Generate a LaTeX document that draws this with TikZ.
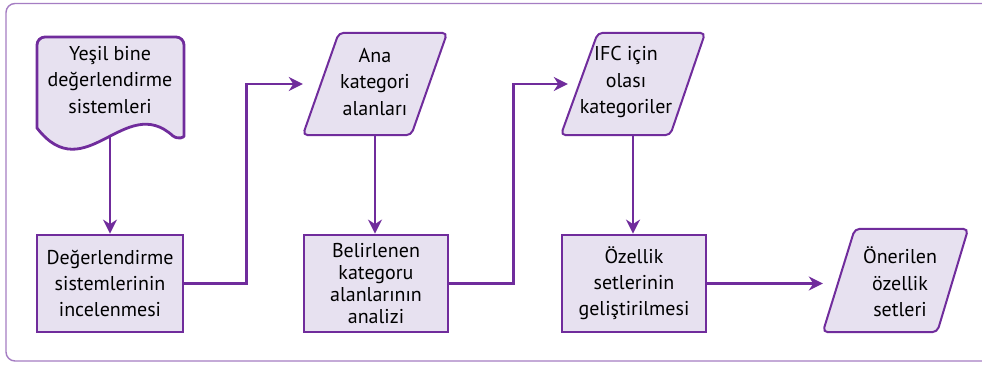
\documentclass[tikz,border=0pt]{standalone}
\usepackage{fontspec}
\setmainfont{PT Sans}
\usetikzlibrary{arrows.meta,calc}
\definecolor{lineP}{RGB}{112,44,156}
\definecolor{fillP}{RGB}{231,225,240}
\definecolor{frameP}{RGB}{165,125,195}
\tikzset{
  conn/.style={draw=lineP, line width=2.6pt},
  arr/.style={conn, -{Stealth[length=14pt,width=14pt,inset=4.5pt]}},
  procbox/.style={draw=lineP, fill=fillP, line width=2.8pt, rectangle, inner sep=0pt,
    align=center, font=\fontsize{20}{26}\selectfont, text=black},
  ghost/.style={draw=none, rectangle, inner sep=0pt, align=center,
    font=\fontsize{20}{26.5}\selectfont, text=black},
  paral/.style={draw=lineP, fill=fillP, line width=2pt, rounded corners=5pt},
  docshape/.style={draw=lineP, fill=fillP, line width=2.8pt},
}
\begin{document}
\begin{tikzpicture}[x=1pt,y=-1pt]
\clip (0,0) rectangle (982,365);
\fill[white] (0,0) rectangle (982,365);
\draw[frameP, line width=1.4pt, rounded corners=9pt] (6,3.5) rectangle (1010,361);

% document shape
\draw[docshape] (37,128) [rounded corners=8pt] -- (37,37) -- (184,37) -- (184,128) [sharp corners]
  .. controls (184,137) and (179,140) .. (173,136)
  .. controls (125,92) and (85,190) .. (37,128) -- cycle;
\node[ghost] (d1) at (110,80) {Yeşil bine\\değerlendirme\\sistemleri};
\coordinate (d1b) at (110,136);

% boxes
\node[procbox, minimum width=146pt, minimum height=97pt] (b1) at (110,283.5)
  {Değerlendirme\\sistemlerinin\\incelenmesi};
\node[procbox, minimum width=144pt, minimum height=97pt, font=\fontsize{20}{21.7}\selectfont] (b2) at (376,283.5)
  {Belirlenen\\kategoru\\alanlarının\\analizi};
\node[procbox, minimum width=144pt, minimum height=97pt] (b3) at (634,283.5)
  {Özellik\\setlerinin\\geliştirilmesi};

% parallelograms (bounding nodes)
\node[ghost, minimum width=144pt, minimum height=102pt] (p1) at (375,84) {};
\draw[paral] (p1.south west) -- ($(p1.north west)+(36,0)$) -- (p1.north east)
  -- ($(p1.south east)+(-36,0)$) -- cycle;
\node[ghost] at (375,82) {Ana\\kategori\\alanları};

\node[ghost, minimum width=144pt, minimum height=102pt] (p2) at (633,84) {};
\draw[paral] (p2.south west) -- ($(p2.north west)+(37,0)$) -- (p2.north east)
  -- ($(p2.south east)+(-35,0)$) -- cycle;
\node[ghost] at (626,82) {IFC için\\olası\\kategoriler};

\node[ghost, minimum width=145pt, minimum height=103pt] (p3) at (895.5,280.5) {};
\draw[paral] (p3.south west) -- ($(p3.north west)+(32,0)$) -- (p3.north east)
  -- ($(p3.south east)+(-31,0)$) -- cycle;
\node[ghost] at (900,282) {Önerilen\\özellik\\setleri};

% connectors
\draw[arr] (d1b) -- (b1.north);
\draw[arr] (b1.east) -- ++(62,0) |- (p1.west);
\draw[arr] (p1.south) -- (p1.south |- b2.north);
\draw[arr] (b2.east) -- ++(64,0) |- ($(p2.west)+(7,0)$);
\draw[arr] (p2.south) -- (p2.south |- b3.north);
\draw[arr] (b3.east) -- (b3.east -| p3.west);
\end{tikzpicture}
\end{document}
